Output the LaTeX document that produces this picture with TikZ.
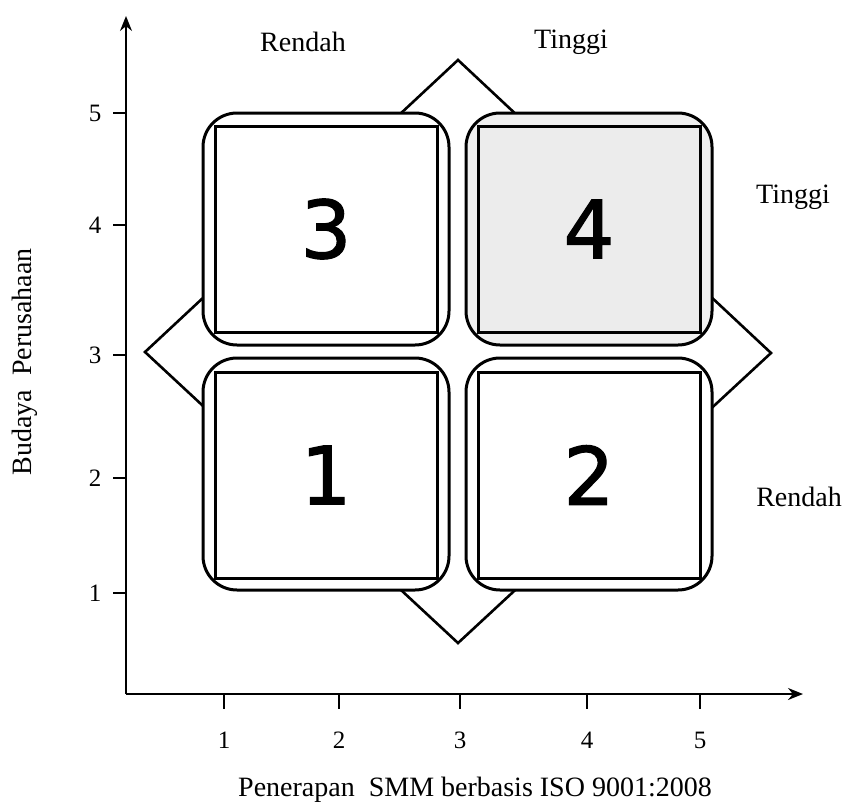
\documentclass[tikz,border=0pt]{standalone}
\usepackage{fontspec}
\setmainfont{Liberation Serif}
\newfontfamily\digitfont[FakeBold=1.5]{DejaVu Sans}
\usetikzlibrary{arrows.meta}
\begin{document}
\begin{tikzpicture}[x=1pt,y=-1pt,
  outerbox/.style={draw=black,line width=3pt,rounded corners=34pt,fill=white,minimum width=246pt,minimum height=232pt,inner sep=0pt},
  innerbox/.style={draw=black,line width=3pt,minimum width=222pt,minimum height=206pt,inner sep=0pt,font=\digitfont\fontsize{80}{80}\selectfont},
  lbl/.style={font=\fontsize{28}{30}\selectfont,inner sep=0pt},
  ticklbl/.style={font=\fontsize{25}{27}\selectfont,inner sep=0pt},
  axis/.style={line width=1.8pt,-{Stealth[length=15pt,width=12pt]}},
  tick/.style={line width=1.6pt}]
\useasboundingbox (0,0) rectangle (845,803);
% diamond
\coordinate (dt) at (458,60);
\coordinate (dr) at (771,353);
\coordinate (db) at (458,643);
\coordinate (dl) at (145,352);
\draw[line width=2.6pt,line join=miter] (dt)--(dr)--(db)--(dl)--cycle;
% boxes
\node[outerbox] (o3) at (326,229) {};
\node[innerbox] (b3) at (326,229) {3};
\node[outerbox,fill=gray!12] (o4) at (589,229) {};
\node[innerbox,fill=gray!15] (b4) at (589,229) {4};
\node[outerbox] (o1) at (326,474) {};
\node[innerbox] (b1) at (326,475) {1};
\node[outerbox] (o2) at (589,474) {};
\node[innerbox] (b2) at (589,475) {2};
% axes
\coordinate (O) at (126,694);
\coordinate (ytip) at (126,16);
\coordinate (xtip) at (803,694);
\draw[axis] (O)--(ytip);
\draw[axis] (O)--(xtip);
% y ticks
\foreach \v/\yy in {5/113,4/225,3/355,2/478,1/593}{
  \coordinate (yt\v) at (126,\yy);
  \draw[tick] (yt\v) -- ++(-13,0);
  \node[ticklbl] (yl\v) at (95,\yy) {\v};
}
% x ticks
\foreach \v/\xx in {1/224,2/339,3/460,4/587,5/700}{
  \coordinate (xt\v) at (\xx,694);
  \draw[tick] (xt\v) -- ++(0,15);
  \node[ticklbl] (xl\v) at (\xx,740) {\v};
}
% labels
\node[lbl] (lr) at (303,42) {Rendah};
\node[lbl] (lt) at (571,42) {Tinggi};
\node[lbl] (rt) at (793,197) {Tinggi};
\node[lbl,anchor=east] (rr) at (842,497) {Rendah};
\node[lbl] (xlab) at (475,790) {Penerapan\ \ SMM berbasis ISO 9001:2008};
\node[lbl,rotate=90] (ylab) at (25,362) {Budaya\ \ Perusahaan};
\end{tikzpicture}
\end{document}
